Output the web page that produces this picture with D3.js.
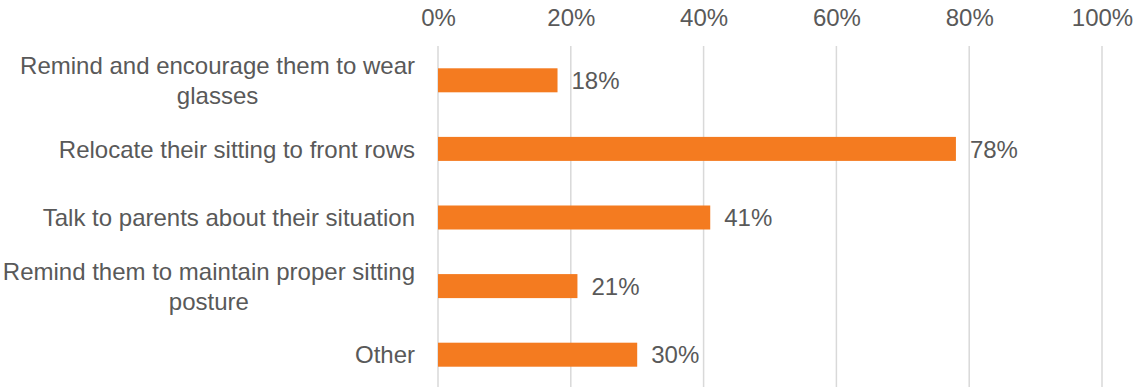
<!doctype html>
<html lang="en">
<head>
  <meta charset="utf-8" />
  <title>Actions taken</title>
  <style>
    html, body { margin: 0; padding: 0; background: #fff; }
    svg { display: block; font-family: "Liberation Sans", Arial, sans-serif; }
    .tick text, .val, .cat { fill: #595959; font-size: 24px; }
  </style>
</head>
<body>
<script src="https://cdn.jsdelivr.net/npm/d3@7"></script>
<script>

// Data
var categories = [
  ["Remind and encourage them to wear", "glasses"],
  ["Relocate their sitting to front rows"],
  ["Talk to parents about their situation"],
  ["Remind them to maintain proper sitting", "posture"],
  ["Other"]
];
var values = [18, 78, 41, 21, 30];
var tickValues = [0, 20, 40, 60, 80, 100];

var width = 1135, height = 387;
var svg = d3.select('body').append('svg')
  .attr('width', width)
  .attr('height', height);

var x = d3.scaleLinear().domain([0, 100]).range([438, 1102]);
var y = d3.scaleBand()
  .domain(d3.range(values.length))
  .range([46, 389])
  .paddingInner(0.65)
  .paddingOuter(0.325);

// gridlines
svg.selectAll('line.grid')
  .data(tickValues)
  .enter().append('line')
  .attr('class', 'grid')
  .attr('x1', function (d) { return x(d); })
  .attr('x2', function (d) { return x(d); })
  .attr('y1', 46)
  .attr('y2', height)
  .attr('stroke', '#d9d9d9')
  .attr('stroke-width', 1.5);

// top axis labels
var axis = d3.axisTop(x)
  .tickValues(tickValues)
  .tickFormat(function (d) { return d + '%'; })
  .tickSize(0)
  .tickPadding(0);
var gx = svg.append('g').attr('transform', 'translate(0,26)').call(axis);
gx.select('.domain').remove();
gx.selectAll('.tick text').attr('font-family', null).attr('font-size', null).attr('dy', 0);

// bars
svg.selectAll('rect.bar')
  .data(values)
  .enter().append('rect')
  .attr('class', 'bar')
  .attr('x', x(0))
  .attr('y', function (d, i) { return y(i); })
  .attr('width', function (d) { return x(d) - x(0); })
  .attr('height', y.bandwidth())
  .attr('fill', '#f47b20');

// value labels
svg.selectAll('text.val')
  .data(values)
  .enter().append('text')
  .attr('class', 'val')
  .attr('x', function (d) { return x(d) + 14; })
  .attr('y', function (d, i) { return y(i) + y.bandwidth() / 2; })
  .attr('dy', '0.36em')
  .text(function (d) { return d + '%'; });

// category labels (lines centred within a right-aligned block)
var lineH = 30;
categories.forEach(function (lines, i) {
  var g = svg.append('g');
  var cy = y(i) + y.bandwidth() / 2;
  var texts = lines.map(function (line, j) {
    return g.append('text')
      .attr('class', 'cat')
      .attr('y', cy + (j - (lines.length - 1) / 2) * lineH)
      .attr('dy', '0.36em')
      .attr('text-anchor', 'middle')
      .text(line);
  });
  var maxW = d3.max(texts, function (t) { return t.node().getComputedTextLength(); });
  texts.forEach(function (t) { t.attr('x', 415 - maxW / 2); });
});

</script>
</body>
</html>
